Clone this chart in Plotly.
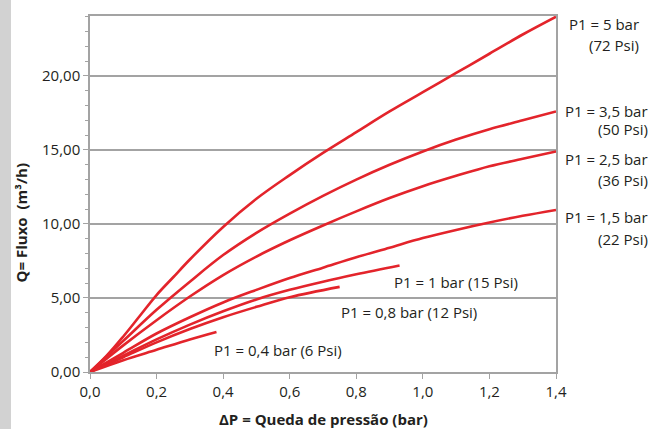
import plotly.graph_objects as go

# ---- data ----
x_5 = [0, 0.05, 0.1, 0.15, 0.2, 0.25, 0.3, 0.4, 0.5, 0.6, 0.7, 0.8, 0.9, 1.0, 1.1, 1.2, 1.3, 1.4]
q_5 = [0, 1.1, 2.4, 3.8, 5.2, 6.4, 7.6, 9.8, 11.7, 13.3, 14.8, 16.2, 17.6, 18.9, 20.2, 21.5, 22.8, 24.0]

x_35 = [0, 0.1, 0.2, 0.3, 0.4, 0.5, 0.6, 0.7, 0.8, 0.9, 1.0, 1.1, 1.2, 1.3, 1.4]
q_35 = [0, 2.1, 4.2, 6.1, 7.9, 9.4, 10.7, 11.9, 13.0, 14.0, 14.9, 15.7, 16.4, 17.0, 17.6]

x_25 = [0, 0.1, 0.2, 0.3, 0.4, 0.5, 0.6, 0.7, 0.8, 0.9, 1.0, 1.1, 1.2, 1.3, 1.4]
q_25 = [0, 1.8, 3.5, 5.1, 6.55, 7.8, 8.9, 9.9, 10.85, 11.75, 12.55, 13.25, 13.9, 14.4, 14.9]

x_15 = [0, 0.1, 0.2, 0.3, 0.4, 0.5, 0.6, 0.7, 0.8, 0.9, 1.0, 1.1, 1.2, 1.3, 1.4]
q_15 = [0, 1.3, 2.6, 3.7, 4.7, 5.55, 6.35, 7.05, 7.75, 8.4, 9.05, 9.6, 10.1, 10.55, 10.95]

x_1 = [0, 0.1, 0.2, 0.3, 0.4, 0.5, 0.6, 0.7, 0.8, 0.93]
q_1 = [0, 1.1, 2.2, 3.2, 4.1, 4.9, 5.55, 6.1, 6.6, 7.2]

x_08 = [0, 0.1, 0.2, 0.3, 0.4, 0.5, 0.6, 0.75]
q_08 = [0, 1.0, 2.0, 2.9, 3.7, 4.4, 5.05, 5.75]

x_04 = [0, 0.1, 0.2, 0.3, 0.38]
q_04 = [0, 0.8, 1.5, 2.2, 2.7]

series = [(x_5, q_5), (x_35, q_35), (x_25, q_25), (x_15, q_15),
          (x_1, q_1), (x_08, q_08), (x_04, q_04)]

# labels to the right of the plot (paper units)
side_texts = ["P1 = 5 bar", "(72 Psi)", "P1 = 3,5 bar", "(50 Psi)",
              "P1 = 2,5 bar", "(36 Psi)", "P1 = 1,5 bar", "(22 Psi)"]
side_x = [1.0236, 1.1824, 1.015, 1.2017, 1.015, 1.2017, 1.015, 1.2017]
side_y = [0.9775, 0.9185, 0.733, 0.6826, 0.598, 0.539, 0.435, 0.3736]
side_anchor = ["left", "right", "left", "right", "left", "right", "left", "right"]

# labels inside the plot (data units)
in_texts = ["P1 = 1 bar (15 Psi)", "P1 = 0,8 bar (12 Psi)", "P1 = 0,4 bar (6 Psi)"]
in_x = [0.907, 0.748, 0.366]
in_y = [6.08, 4.05, 1.49]

y_ticks = [0, 5, 10, 15, 20]
x_ticks = [0, 0.2, 0.4, 0.6, 0.8, 1.0, 1.2, 1.4]

RED = "#e3242b"
TXT = "#231f20"
GRID = "#a3a3a3"
FONT = "Open Sans"

fig = go.Figure()
for xs, qs in series:
    fig.add_trace(go.Scatter(x=xs, y=qs, mode="lines",
                             line=dict(color=RED, width=2.6, shape="spline", smoothing=1.0),
                             showlegend=False, hoverinfo="skip"))

for t, lx, ly, an in zip(side_texts, side_x, side_y, side_anchor):
    fig.add_annotation(x=lx, y=ly, xref="paper", yref="paper", text=t, showarrow=False,
                       xanchor=an, yanchor="middle",
                       font=dict(family=FONT, size=15, color=TXT))

for t, lx, ly in zip(in_texts, in_x, in_y):
    fig.add_annotation(x=lx, y=ly, xref="x", yref="y", text=t, showarrow=False,
                       xanchor="left", yanchor="middle",
                       font=dict(family=FONT, size=15, color=TXT))

# axis titles
fig.add_annotation(x=0.5, y=-0.132, xref="paper", yref="paper",
                   text="<b>ΔP = Queda de pressão (bar)</b>", showarrow=False,
                   xanchor="center", yanchor="middle",
                   font=dict(family=FONT, size=15, color=TXT))
fig.add_annotation(x=-0.146, y=0.42, xref="paper", yref="paper",
                   text="<b>Q= Fluxo  (m³/h)</b>", showarrow=False, textangle=-90,
                   xanchor="center", yanchor="middle",
                   font=dict(family=FONT, size=15, color=TXT))

# gray band at the left edge
fig.add_shape(type="rect", xref="paper", yref="paper", x0=-0.2, x1=-0.1695, y0=-0.2,
              y1=1.1, fillcolor="#d2d2d2", line=dict(width=0), layer="below")

fig.update_layout(
    width=654, height=429,
    margin=dict(l=90, r=98, t=16, b=57),
    paper_bgcolor="white", plot_bgcolor="white",
    separators=",.",
    font=dict(family=FONT, size=15, color=TXT),
)
fig.update_xaxes(range=[0, 1.4], tickvals=x_ticks, tickformat=".1f",
                 showgrid=False, zeroline=False,
                 showline=True, linecolor=GRID, linewidth=1.5, mirror=True,
                 ticks="outside", ticklen=5, tickcolor=GRID, tickwidth=1,
                 tickfont=dict(family=FONT, size=15, color=TXT))
fig.update_yaxes(range=[0, 24.05], tickvals=y_ticks, tickformat=".2f",
                 showgrid=True, gridcolor=GRID, gridwidth=1.5, zeroline=False,
                 showline=True, linecolor=GRID, linewidth=1.5, mirror=True,
                 ticks="outside", ticklen=5, tickcolor=GRID, tickwidth=1,
                 minor=dict(dtick=1, ticks="outside", ticklen=3, tickcolor=GRID, showgrid=False),
                 tickfont=dict(family=FONT, size=15, color=TXT))

fig.write_html("out.html", config={"displayModeBar": False},
               post_script="document.body.style.margin='0px';")
